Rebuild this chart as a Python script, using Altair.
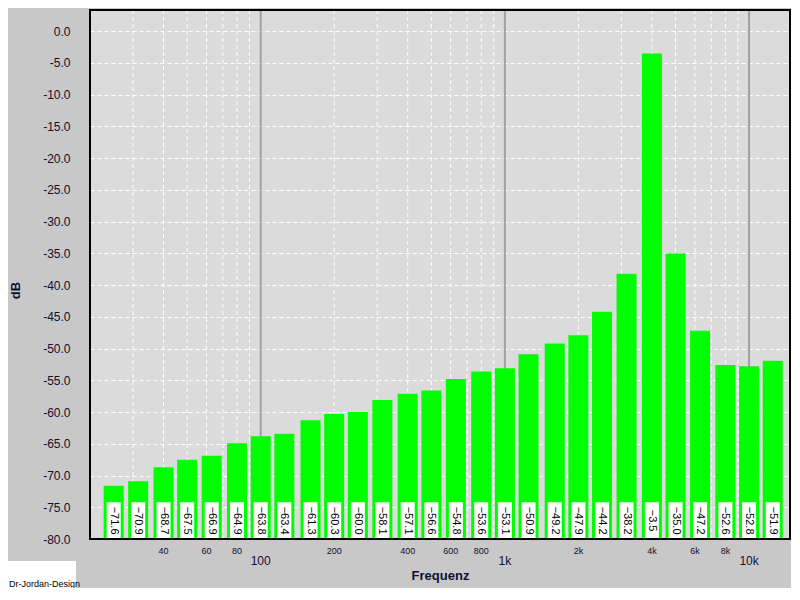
import altair as alt
import pandas as pd

# ---- data ----
freqs = [25, 31.5, 40, 50, 63, 80, 100, 125, 160, 200, 250, 315, 400, 500,
         630, 800, 1000, 1250, 1600, 2000, 2500, 3150, 4000, 5000, 6300,
         8000, 10000, 12500]
levels = [-71.6, -70.9, -68.7, -67.5, -66.9, -64.9, -63.8, -63.4, -61.3,
          -60.3, -60.0, -58.1, -57.1, -56.6, -54.8, -53.6, -53.1, -50.9,
          -49.2, -47.9, -44.2, -38.2, -3.5, -35.0, -47.2, -52.6, -52.8, -51.9]

minor_grid = [30, 40, 50, 60, 70, 80, 90,
              200, 300, 400, 500, 600, 700, 800, 900,
              2000, 3000, 4000, 5000, 6000, 7000, 8000, 9000]
major_grid = [100, 1000, 10000]

minor_ticks = [40, 60, 80, 200, 400, 600, 800, 2000, 4000, 6000, 8000]
minor_labels = ["40", "60", "80", "200", "400", "600", "800",
                "2k", "4k", "6k", "8k"]
major_ticks = [100, 1000, 10000]
major_labels = ["100", "1k", "10k"]

y_ticks = list(range(-80, 1, 5))

FONT = "Liberation Sans"
TXT = "#101030"
W, H = 700, 529

df = pd.DataFrame({"f": freqs, "db": levels})
df_minor = pd.DataFrame({"f": minor_grid})
df_major = pd.DataFrame({"f": major_grid})
df_mt = pd.DataFrame({"f": minor_ticks, "lab": minor_labels})
df_Mt = pd.DataFrame({"f": major_ticks, "lab": major_labels})

xscale = alt.Scale(type="log", domain=[20, 14710], nice=False, padding=0)
yscale = alt.Scale(domain=[-80, 3.35], nice=False, zero=False, padding=0)

xaxis = alt.Axis(labels=False, ticks=False, domain=False, grid=False,
                 title="Frequenz", titleFont=FONT, titleFontSize=13,
                 titleFontWeight="bold", titleColor=TXT, titlePadding=30)
yaxis = alt.Axis(values=y_ticks, labelExpr="datum.value + '.0'",
                 grid=True, gridColor="white", gridDash=[4, 3], gridWidth=1,
                 ticks=False, domain=False, labelPadding=20,
                 labelFont=FONT, labelFontSize=12, labelColor=TXT,
                 title="dB", titleFont=FONT, titleFontSize=13,
                 titleFontWeight="bold", titleColor=TXT,
                 titleX=-75, titleY=280, titleBaseline="middle")


def X():
    return alt.X("f:Q", scale=xscale, axis=xaxis)


grid_minor = alt.Chart(df_minor).mark_rule(
    color="white", strokeDash=[4, 3], strokeWidth=1
).encode(x=X())

grid_major = alt.Chart(df_major).mark_rule(
    color="#a0a0a0", strokeWidth=2
).encode(x=X())

bars = alt.Chart(df).mark_bar(size=20, color="#00ff00").encode(
    x=X(),
    y=alt.Y("db:Q", scale=yscale, axis=yaxis),
    y2=alt.Y2(datum=-80),
)

boxes = alt.Chart(df).mark_bar(size=14, color="white").encode(
    x=X(),
    y=alt.Y(datum=-74.2, scale=yscale, axis=yaxis),
    y2=alt.Y2(datum=-80),
)

vals = alt.Chart(df).mark_text(
    angle=90, font=FONT, fontSize=11, color="#000000",
    align="center", baseline="middle"
).encode(
    x=X(),
    y=alt.Y(datum=-77.1, scale=yscale, axis=yaxis),
    text=alt.Text("db:Q", format=".1f"),
)

minor_lab = alt.Chart(df_mt).mark_text(
    font=FONT, fontSize=9, color=TXT, baseline="middle"
).encode(x=X(), y=alt.value(540.5), text="lab:N")

major_lab = alt.Chart(df_Mt).mark_text(
    font=FONT, fontSize=12, color=TXT, baseline="middle"
).encode(x=X(), y=alt.value(551), text="lab:N")

logo_box = alt.Chart(df_Mt).mark_rect(color="white").encode(
    x=alt.value(-82), x2=alt.value(-14), y=alt.value(551), y2=alt.value(590)
).transform_filter("datum.f == 100")

logo_txt = alt.Chart(df_Mt).mark_text(
    text="Dr-Jordan-Design", font=FONT, fontSize=9, color="black",
    baseline="alphabetic", align="left"
).encode(x=alt.value(-81), y=alt.value(577)).transform_filter("datum.f == 100")

frame = alt.Chart(df_Mt).mark_rect(
    filled=False, stroke="black", strokeWidth=2
).encode(
    x=alt.value(0), x2=alt.value(W), y=alt.value(0), y2=alt.value(H)
).transform_filter("datum.f == 100")

chart = alt.layer(
    grid_minor, grid_major, bars, boxes, vals, minor_lab, major_lab,
    logo_box, logo_txt, frame
).properties(
    width=W, height=H,
    autosize=alt.AutoSizeParams(type="none"),
    padding={"left": 82, "top": 2, "right": 1, "bottom": 49},
    background="#c8c8c8",
).configure_view(fill="#dbdbdb", stroke=None)

chart.save("out.html", embed_options={"renderer": "svg", "actions": False})
